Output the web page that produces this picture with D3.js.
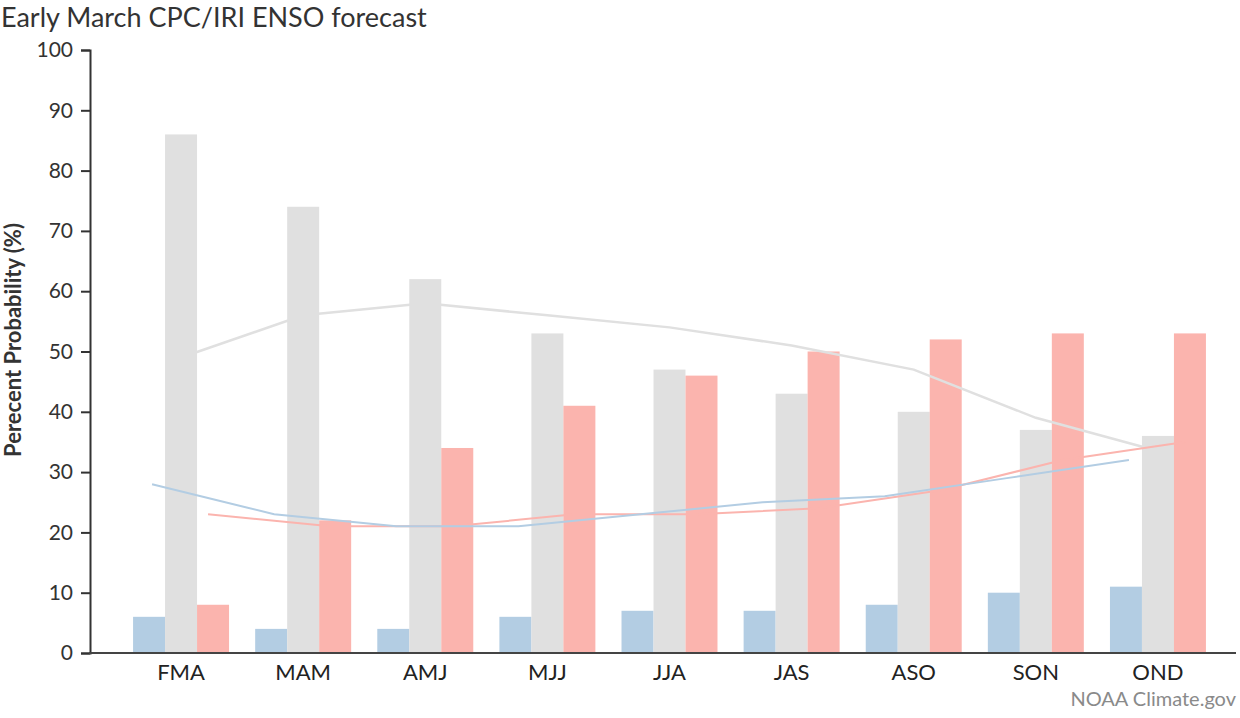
<!DOCTYPE html>
<html>
<head>
<meta charset="utf-8">
<script src="https://cdn.jsdelivr.net/npm/d3@7"></script>
<style>
  body { margin: 0; background: #fff; }
  text { font-family: Lato, sans-serif; }
</style>
</head>
<body>
<div id="chart"></div>
<script>
// seasons and forecast probabilities
const seasons = ['FMA', 'MAM', 'AMJ', 'MJJ', 'JJA', 'JAS', 'ASO', 'SON', 'OND'];
const laNina  = [6, 4, 4, 6, 7, 7, 8, 10, 11];
const neutral = [86, 74, 62, 53, 47, 43, 40, 37, 36];
const elNino  = [8, 22, 34, 41, 46, 50, 52, 53, 53];

// climatology lines
const climNina    = [28, 23, 21, 21, 23, 25, 26, 29, 32];
const climNeutral = [49, 56, 58, 56, 54, 51, 47, 39, 33.5];
const climNino    = [23, 21, 21, 23, 23, 24, 27, 32, 35];

const yTicks = [0, 10, 20, 30, 40, 50, 60, 70, 80, 90, 100];

const width = 1240, height = 718;
const colors = { nina: '#b3cde3', neutral: '#e0e0e0', nino: '#fbb4ae' };

const svg = d3.select('#chart').append('svg')
    .attr('width', width)
    .attr('height', height);

const y = d3.scaleLinear().domain([0, 100]).range([653, 50]);

const x0 = d3.scaleBand()
    .domain(seasons)
    .range([120, 1219])
    .paddingInner(0.214)
    .paddingOuter(0.107);

const x1 = d3.scaleBand()
    .domain(['nina', 'neutral', 'nino'])
    .range([0, x0.bandwidth()]);

const series = [
    { key: 'nina', values: laNina },
    { key: 'neutral', values: neutral },
    { key: 'nino', values: elNino }
];

// bars
const groups = svg.append('g')
    .selectAll('g')
    .data(seasons)
    .enter().append('g')
    .attr('transform', d => `translate(${x0(d)},0)`);

groups.selectAll('rect')
    .data((d, i) => series.map(s => ({ key: s.key, value: s.values[i] })))
    .enter().append('rect')
    .attr('x', d => x1(d.key))
    .attr('y', d => y(d.value))
    .attr('width', x1.bandwidth())
    .attr('height', d => y(0) - y(d.value))
    .attr('fill', d => colors[d.key]);

// climatology lines drawn over the bars
const lines = [
    { key: 'neutral', values: climNeutral, shift: 0, w: 2.5 },
    { key: 'nino', values: climNino, shift: -5, w: 2 },
    { key: 'nina', values: climNina, shift: 3, w: 2 }
];

lines.forEach(l => {
    const line = d3.line()
        .x((d, i) => x0(seasons[i]) + x1(l.key) + x1.bandwidth() / 2 + l.shift)
        .y(d => y(d));
    svg.append('path')
        .datum(l.values)
        .attr('d', line)
        .attr('fill', 'none')
        .attr('stroke', colors[l.key])
        .attr('stroke-width', l.w);
});

// axes
const yAxis = svg.append('g')
    .attr('transform', 'translate(90,0)')
    .call(d3.axisLeft(y).tickValues(yTicks).tickSize(9).tickSizeOuter(9).tickPadding(8));
yAxis.select('.domain').attr('stroke', '#333').attr('stroke-width', 2);
yAxis.selectAll('.tick line').attr('stroke', '#333').attr('stroke-width', 2);
yAxis.selectAll('.tick text')
    .attr('fill', '#333')
    .style('font-size', '21px');

svg.append('line')
    .attr('x1', 89).attr('x2', 1236)
    .attr('y1', y(0)).attr('y2', y(0))
    .attr('stroke', '#444')
    .attr('stroke-width', 2);

svg.append('g')
    .selectAll('text')
    .data(seasons)
    .enter().append('text')
    .attr('x', d => x0(d) + x1('neutral') + x1.bandwidth() / 2)
    .attr('y', 680)
    .attr('text-anchor', 'middle')
    .attr('fill', '#222')
    .style('font-size', '22px')
    .text(d => d);

// titles
svg.append('text')
    .attr('x', 1)
    .attr('y', 27)
    .attr('fill', '#333')
    .style('font-size', '27px')
    .text('Early March CPC/IRI ENSO forecast');

svg.append('text')
    .attr('transform', 'translate(21,340) rotate(-90)')
    .attr('text-anchor', 'middle')
    .attr('fill', '#333')
    .style('font-size', '22px')
    .style('font-weight', 'bold')
    .text('Perecent Probability (%)');

svg.append('text')
    .attr('x', 1236)
    .attr('y', 706)
    .attr('text-anchor', 'end')
    .attr('fill', '#8a8a8a')
    .style('font-size', '20px')
    .text('NOAA Climate.gov');
</script>
</body>
</html>
